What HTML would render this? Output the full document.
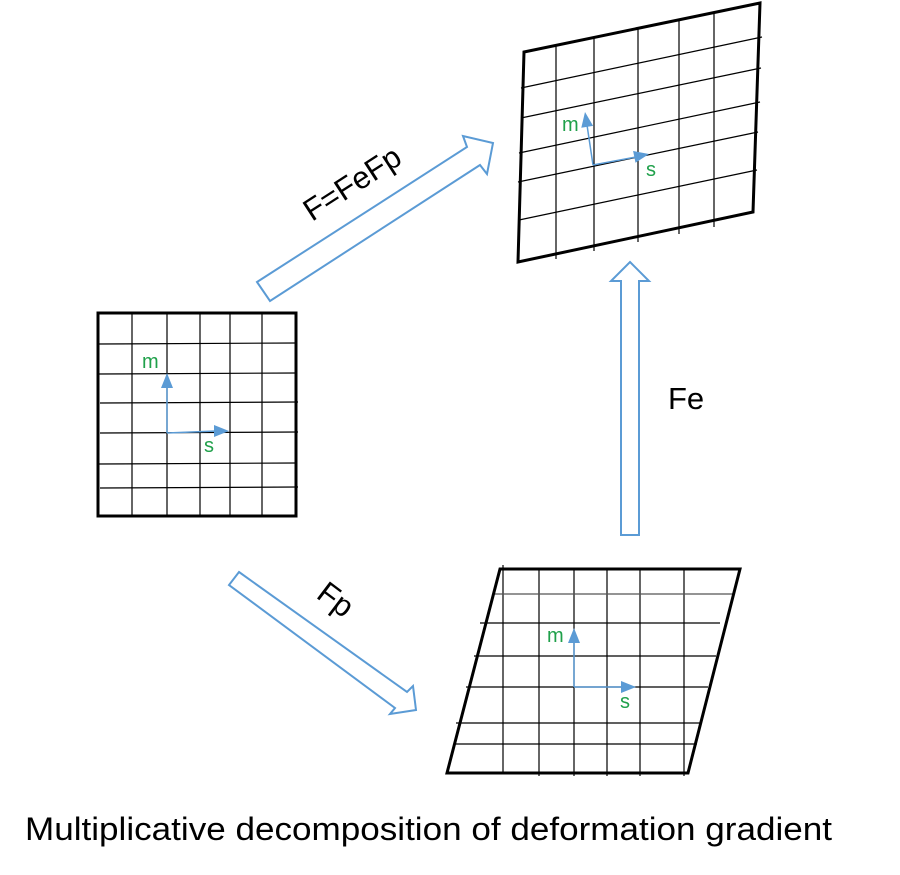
<!DOCTYPE html>
<html><head><meta charset="utf-8"><style>
html,body{margin:0;padding:0;background:#fff;}
svg{display:block;}
text{font-family:"Liberation Sans",sans-serif;}
</style></head><body>
<svg width="900" height="875" viewBox="0 0 900 875" xmlns="http://www.w3.org/2000/svg">
<rect width="900" height="875" fill="#fff"/>

<!-- Left grid -->
<g stroke="#000" stroke-width="1.2">
<line x1="132" y1="314" x2="132" y2="516"/>
<line x1="167" y1="314" x2="167" y2="516"/>
<line x1="200" y1="314" x2="200" y2="516"/>
<line x1="230" y1="314" x2="230" y2="516"/>
<line x1="262" y1="314" x2="262" y2="516"/>
<line x1="98" y1="344" x2="296" y2="343"/>
<line x1="98" y1="374" x2="296" y2="373"/>
<line x1="100" y1="403" x2="298" y2="402"/>
<line x1="100" y1="433" x2="298" y2="432"/>
<line x1="98" y1="464" x2="296" y2="463"/>
<line x1="100" y1="488" x2="298" y2="487"/>
</g>
<rect x="98" y="313" width="198" height="203" fill="none" stroke="#000" stroke-width="3"/>
<g stroke="#5b9bd5" stroke-width="1.5" fill="none">
<line x1="167" y1="433" x2="167" y2="386"/>
<line x1="167" y1="433" x2="216" y2="431"/>
</g>
<g fill="#5b9bd5">
<polygon points="167,373 161,388 173,388"/>
<polygon points="229,431 214,425 214,437"/>
</g>
<text x="142" y="368" font-size="20" fill="#1fa04a">m</text>
<text x="204" y="452" font-size="20" fill="#1fa04a">s</text>

<!-- Top-right grid -->
<g stroke="#000" stroke-width="1.2">
<line x1="556" y1="45" x2="556" y2="259"/>
<line x1="594" y1="37" x2="594" y2="251"/>
<line x1="638" y1="28" x2="638" y2="242"/>
<line x1="679" y1="20" x2="679" y2="234"/>
<line x1="714" y1="13" x2="714" y2="227"/>
<line x1="521" y1="88" x2="762" y2="37"/>
<line x1="521" y1="118" x2="761" y2="68"/>
<line x1="519" y1="153" x2="760" y2="102"/>
<line x1="518" y1="182" x2="758" y2="132"/>
<line x1="519" y1="220" x2="757" y2="170"/>
</g>
<polygon points="524,52 760,3 753,212 518,262" fill="none" stroke="#000" stroke-width="3"/>
<g stroke="#5b9bd5" stroke-width="1.5" fill="none">
<line x1="593" y1="165" x2="587" y2="125"/>
<line x1="593" y1="165" x2="636" y2="157"/>
</g>
<g fill="#5b9bd5">
<polygon points="585,112 593.1,125.9 581.3,127.7"/>
<polygon points="649,154 635.5,162.8 633.1,151"/>
</g>
<text x="562" y="131" font-size="20" fill="#1fa04a">m</text>
<text x="646" y="176" font-size="20" fill="#1fa04a">s</text>

<!-- Bottom grid -->
<g stroke="#000" stroke-width="1.2">
<line x1="503" y1="565" x2="503" y2="773"/>
<line x1="539" y1="569" x2="539" y2="776"/>
<line x1="574" y1="569" x2="574" y2="776"/>
<line x1="607" y1="569" x2="607" y2="776"/>
<line x1="640" y1="569" x2="640" y2="776"/>
<line x1="684" y1="569" x2="684" y2="776"/>
<line x1="495" y1="594" x2="733" y2="594" stroke="#555"/>
<line x1="480" y1="623" x2="720" y2="623"/>
<line x1="474" y1="656" x2="716" y2="656"/>
<line x1="466" y1="687" x2="708" y2="687"/>
<line x1="456" y1="723" x2="700" y2="723"/>
<line x1="455" y1="744" x2="697" y2="744"/>
</g>
<polygon points="500,569 740,569 688,773 447,773" fill="none" stroke="#000" stroke-width="3"/>
<g stroke="#5b9bd5" stroke-width="1.5" fill="none">
<line x1="574" y1="687" x2="574" y2="641"/>
<line x1="574" y1="687" x2="622" y2="687"/>
</g>
<g fill="#5b9bd5">
<polygon points="574,628 568,643 580,643"/>
<polygon points="636,687 621,681 621,693"/>
</g>
<text x="547" y="642" font-size="20" fill="#1fa04a">m</text>
<text x="620" y="708" font-size="20" fill="#1fa04a">s</text>

<!-- Block arrows -->
<g fill="#fff" stroke="#5b9bd5" stroke-width="2" stroke-linejoin="miter">
<polygon points="257,282 467,147 463,136 493,143 487,174 480,165 270,301"/>
<polygon points="239,572 407,692 413,686 416,710 390,714 395,708 229,585"/>
<polygon points="630,262 649,281 639,281 639,535 621,535 621,281 611,281"/>
</g>

<text x="0" y="0" font-size="31" fill="#000" transform="translate(312,222) rotate(-33)">F=FeFp</text>
<text x="0" y="0" font-size="31" fill="#000" transform="translate(315,597) rotate(37)">Fp</text>
<text x="668" y="409" font-size="31" fill="#000">Fe</text>

<text x="25" y="840" font-size="32" fill="#000" textLength="807" lengthAdjust="spacingAndGlyphs">Multiplicative decomposition of deformation gradient</text>
</svg>
</body></html>
